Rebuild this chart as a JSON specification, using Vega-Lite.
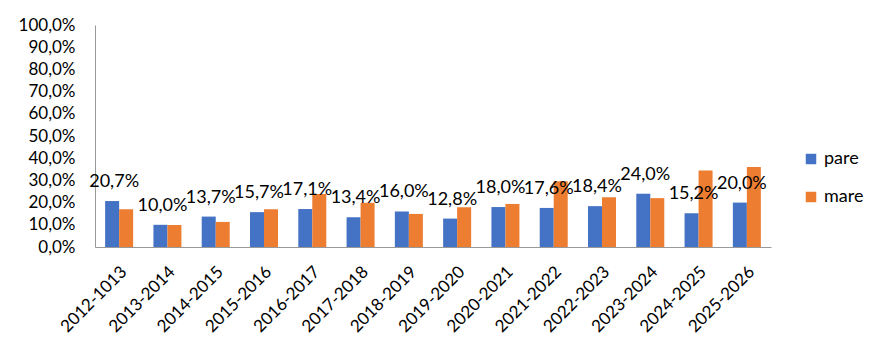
{
  "$schema": "https://vega.github.io/schema/vega-lite/v6.json",
  "autosize": {"type": "none"},
  "padding": {"left": 95, "top": 25, "right": 116, "bottom": 109},
  "width": 676,
  "height": 222,
  "background": "white",
  "config": {
    "view": {"stroke": null},
    "font": "Lato",
    "locale": {"number": {"decimal": ",", "thousands": ".", "grouping": [3], "currency": ["", " €"]}}
  },
  "data": {
    "values": [
      {"period": "2012-1013", "series": "pare", "value": 0.207},
      {"period": "2012-1013", "series": "mare", "value": 0.170},
      {"period": "2013-2014", "series": "pare", "value": 0.100},
      {"period": "2013-2014", "series": "mare", "value": 0.099},
      {"period": "2014-2015", "series": "pare", "value": 0.137},
      {"period": "2014-2015", "series": "mare", "value": 0.113},
      {"period": "2015-2016", "series": "pare", "value": 0.157},
      {"period": "2015-2016", "series": "mare", "value": 0.170},
      {"period": "2016-2017", "series": "pare", "value": 0.171},
      {"period": "2016-2017", "series": "mare", "value": 0.239},
      {"period": "2017-2018", "series": "pare", "value": 0.134},
      {"period": "2017-2018", "series": "mare", "value": 0.199},
      {"period": "2018-2019", "series": "pare", "value": 0.160},
      {"period": "2018-2019", "series": "mare", "value": 0.149},
      {"period": "2019-2020", "series": "pare", "value": 0.128},
      {"period": "2019-2020", "series": "mare", "value": 0.179},
      {"period": "2020-2021", "series": "pare", "value": 0.180},
      {"period": "2020-2021", "series": "mare", "value": 0.194},
      {"period": "2021-2022", "series": "pare", "value": 0.176},
      {"period": "2021-2022", "series": "mare", "value": 0.296},
      {"period": "2022-2023", "series": "pare", "value": 0.184},
      {"period": "2022-2023", "series": "mare", "value": 0.224},
      {"period": "2023-2024", "series": "pare", "value": 0.240},
      {"period": "2023-2024", "series": "mare", "value": 0.220},
      {"period": "2024-2025", "series": "pare", "value": 0.152},
      {"period": "2024-2025", "series": "mare", "value": 0.345},
      {"period": "2025-2026", "series": "pare", "value": 0.200},
      {"period": "2025-2026", "series": "mare", "value": 0.360}
    ]
  },
  "encoding": {
    "x": {
      "field": "period",
      "type": "nominal",
      "sort": null,
      "scale": {"paddingInner": 0.42, "paddingOuter": 0.21},
      "axis": {
        "title": null,
        "labelAngle": -45,
        "labelAlign": "right",
        "labelBaseline": "middle",
        "labelFontSize": 17,
        "labelColor": "#000000",
        "labelPadding": 22,
        "labelOffset": 5,
        "ticks": false,
        "tickSize": 0,
        "domainColor": "#999999",
        "labelOverlap": false
      }
    },
    "y": {
      "field": "value",
      "type": "quantitative",
      "scale": {"domain": [0, 1]},
      "axis": {
        "title": null,
        "format": ".1%",
        "values": [0, 0.1, 0.2, 0.3, 0.4, 0.5, 0.6, 0.7, 0.8, 0.9, 1.0],
        "grid": false,
        "ticks": false,
        "tickSize": 0,
        "labelPadding": 20,
        "labelFontSize": 17,
        "labelColor": "#000000",
        "domainColor": "#999999"
      }
    }
  },
  "layer": [
    {
      "mark": {"type": "bar"},
      "encoding": {
        "xOffset": {"field": "series", "type": "nominal", "sort": ["pare", "mare"], "scale": {"domain": ["pare", "mare"], "paddingInner": 0, "paddingOuter": 0}},
        "color": {
          "field": "series",
          "type": "nominal",
          "scale": {"domain": ["pare", "mare"], "range": ["#4472C4", "#ED7D31"]},
          "legend": {
            "title": null,
            "orient": "none",
            "legendX": 707,
            "legendY": 125,
            "symbolType": "square",
            "symbolSize": 110,
            "symbolStrokeWidth": 0,
            "labelFontSize": 18,
            "labelColor": "#000000",
            "labelOffset": 4,
            "rowPadding": 20
          }
        }
      }
    },
    {
      "transform": [{"filter": "datum.series === 'pare'"}],
      "mark": {"type": "text", "baseline": "alphabetic", "align": "center", "dy": -14, "dx": -5, "fontSize": 18, "color": "#000000"},
      "encoding": {
        "text": {"field": "value", "type": "quantitative", "format": ".1%"}
      }
    }
  ]
}
